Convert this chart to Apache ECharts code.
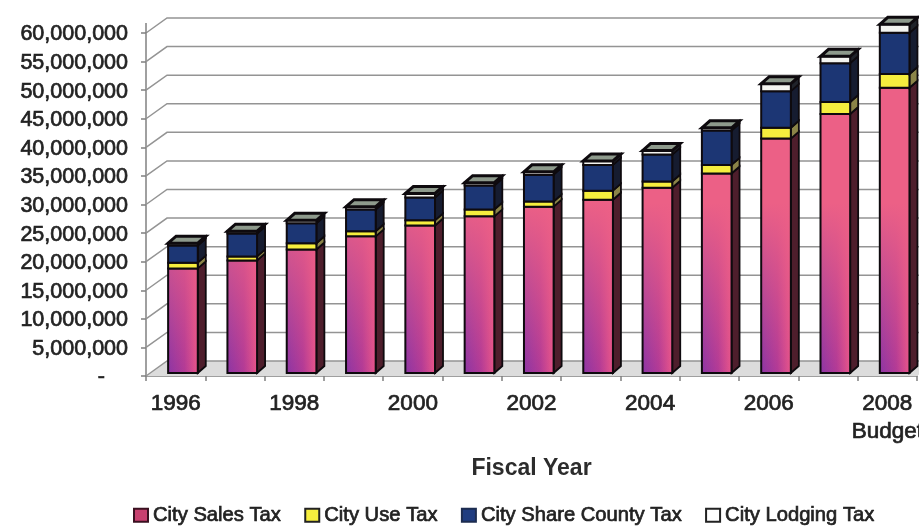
<!DOCTYPE html>
<html><head><meta charset="utf-8">
<style>html,body{margin:0;padding:0;background:#fff}#c{width:919px;height:526px;filter:blur(0.5px)}</style>
<script src="https://cdn.jsdelivr.net/npm/echarts@6/dist/echarts.min.js"></script>
</head><body><div id="c"></div>
<script>
const years = ['1996','1997','1998','1999','2000','2001','2002','2003','2004','2005','2006','2007','2008\nBudget'];
const citySales = [18.3,19.7,21.6,23.9,25.8,27.4,29.1,30.3,32.4,34.9,41.0,45.3,49.9].map(v=>v*1e6);
const cityUse = [1.0,0.7,1.1,0.9,0.9,1.2,0.9,1.6,1.1,1.5,1.9,2.1,2.4].map(v=>v*1e6);
const cityCounty = [3.0,4.0,3.5,3.8,4.0,4.2,4.7,4.5,4.7,6.0,6.4,6.8,7.2].map(v=>v*1e6);
const cityLodging = [0.4,0.4,0.5,0.5,0.7,0.5,0.5,0.7,0.7,0.5,1.3,1.2,1.5].map(v=>v*1e6);
const yTicks = [0,5,10,15,20,25,30,35,40,45,50,55,60].map(v=>v*1e6);
const seriesNames = ['City Sales Tax','City Use Tax','City Share County Tax','City Lodging Tax'];
const seriesValues = [citySales, cityUse, cityCounty, cityLodging];

const BACK = {dx:21, dy:-15}, DEPTH = {dx:8, dy:-7}, LIFT = -3;
const OUT = '#0e0a0e';
const styles = [
  {front:null, side:'#4e1e2c'},
  {front:'#f6ee3e', side:'#8b8448'},
  {front:'#1c3674', side:'#161c30'},
  {front:'#f4f4f0', side:'#20232a'}
];

function barRender(si){
  return function(params, api){
    const i = api.value(0), w = api.size([1,0])[0];
    const c0 = api.coord([i, api.value(1)]), c1 = api.coord([i, api.value(2)]);
    const x0 = c0[0] - w*0.127, x1 = x0 + w*0.5;
    const yb = c0[1] + LIFT, yt = c1[1] + LIFT;
    const st = styles[si];
    const kids = [];
    kids.push({type:'polygon', shape:{points:[[x1,yb],[x1+DEPTH.dx,yb+DEPTH.dy],[x1+DEPTH.dx,yt+DEPTH.dy],[x1,yt]]},
      style:{fill:st.side, stroke:OUT, lineWidth:1.8}});
    if (si === 0) {
      kids.push({type:'rect', shape:{x:x0,y:yt,width:x1-x0,height:yb-yt},
        style:{fill:new echarts.graphic.LinearGradient(x0,0,x1,0,[
          {offset:0,color:'#8c35a4'},{offset:0.55,color:'#b23a96'},{offset:1,color:'#e8558a'}],true)}});
      kids.push({type:'rect', shape:{x:x0,y:yt,width:x1-x0,height:yb-yt},
        style:{fill:new echarts.graphic.LinearGradient(0,yb,0,yb-170,[
          {offset:0,color:'rgba(236,96,134,0)'},{offset:1,color:'rgba(236,96,134,1)'}],true),
          stroke:OUT, lineWidth:2}});
    } else {
      kids.push({type:'rect', shape:{x:x0,y:yt,width:x1-x0,height:yb-yt},
        style:{fill:st.front, stroke:OUT, lineWidth:2}});
    }
    if (si === 3) {
      kids.push({type:'polygon', shape:{points:[[x0,yt],[x0+DEPTH.dx,yt+DEPTH.dy],[x1+DEPTH.dx,yt+DEPTH.dy],[x1,yt]]},
        style:{fill:'#8e9a8c', stroke:OUT, lineWidth:3}});
    }
    return {type:'group', children:kids};
  };
}
function wallRender(params, api){
  const v = api.value(0);
  const c = api.coord([0, v]);
  const cs = params.coordSys;
  const x = cs.x, rx = cs.x + cs.width + BACK.dx;
  const y = c[1];
  const kids = [];
  const line = {stroke:'#949494', lineWidth:1.5, fill:null};
  if (v === 0) {
    kids.push({type:'polygon', shape:{points:[[x,y],[x+BACK.dx,y+BACK.dy],[rx,y+BACK.dy],[rx-BACK.dx,y]]},
      style:{fill:'#dcdcdc'}});
  }
  kids.push({type:'polyline', shape:{points:[[x,y],[x+BACK.dx,y+BACK.dy],[rx,y+BACK.dy]]}, style:line});
  if (v === yTicks[yTicks.length-1]) {
    kids.push({type:'line', shape:{x1:x,y1:y,x2:x,y2:y-10}, style:{stroke:'#808080',lineWidth:1.5}});
  }
  return {type:'group', children:kids};
}

const legendColors = [
  {color:'#c8406f', borderColor:'#3a1020'},
  {color:'#f6ee3e', borderColor:'#222'},
  {color:'#1f3c80', borderColor:'#1c2c50'},
  {color:'#fff', borderColor:'#222'}
];
const series = [{
  type:'custom', name:'walls', silent:true, z:1,
  renderItem:wallRender, encode:{y:0}, data:yTicks.map(v=>[v]), coordinateSystem:'cartesian2d', clip:false
}];
const stack = years.map(()=>0);
seriesValues.forEach((vals, si)=>{
  const rows = vals.map((v,i)=>{const b=stack[i]; stack[i]+=v; return [i,b,stack[i]];});
  series.push({type:'custom', name:seriesNames[si], z:2+si, silent:true, clip:false,
    renderItem:barRender(si), encode:{x:0,y:[1,2]}, data:rows,
    itemStyle:{color:legendColors[si].color}});
});

const chart = echarts.init(document.getElementById('c'), null, {renderer:'canvas'});
chart.setOption({
  animation:false,
  backgroundColor:'#fff',
  textStyle:{fontFamily:'"Liberation Sans"'},
  grid:{left:146,right:2,top:33,bottom:150,outerBoundsMode:'none'},
  legend:{
    left:133, top:505, padding:0, itemWidth:14, itemHeight:13, itemGap:23, selectedMode:false, icon:'rect',
    textStyle:{fontSize:20.2, color:'#222', fontFamily:'"Liberation Sans"', fontWeight:'normal', textBorderColor:'#222', textBorderWidth:0.7},
    data:seriesNames.map((n,i)=>({name:n, itemStyle:{color:legendColors[i].color, borderColor:legendColors[i].borderColor, borderWidth:2}}))
  },
  xAxis:{
    type:'category', data:years, boundaryGap:true,
    name:'Fiscal Year', nameLocation:'middle', nameGap:81,
    nameTextStyle:{fontSize:23, fontWeight:'bold', color:'#2c2c2c', fontFamily:'"Liberation Sans"'},
    axisLine:{show:true,lineStyle:{color:'#808080',width:1.5}},
    axisTick:{show:true,alignWithLabel:false,interval:0,length:5,lineStyle:{color:'#808080',width:1.5}},
    axisLabel:{interval:1,fontSize:22.5,color:'#222',lineHeight:28,margin:14,hideOverlap:false,
      textBorderColor:'#222',textBorderWidth:0.7,align:'center'},
    splitLine:{show:false}
  },
  yAxis:{
    type:'value', min:0, max:60000000, interval:5000000,
    axisLine:{show:true,lineStyle:{color:'#808080',width:1.5}},
    axisTick:{show:true,length:5,lineStyle:{color:'#808080',width:1.5}},
    splitLine:{show:false},
    axisLabel:{fontSize:21.5,color:'#222',margin:18,textBorderColor:'#222',textBorderWidth:0.7,padding:[3,0,0,0],
      formatter:v=> v===0 ? '{d|-}' : v.toLocaleString('en-US'),
      rich:{d:{padding:[0,23,0,0],fontSize:21.5,color:'#222'}}}
  },
  series:series
});
</script></body></html>
